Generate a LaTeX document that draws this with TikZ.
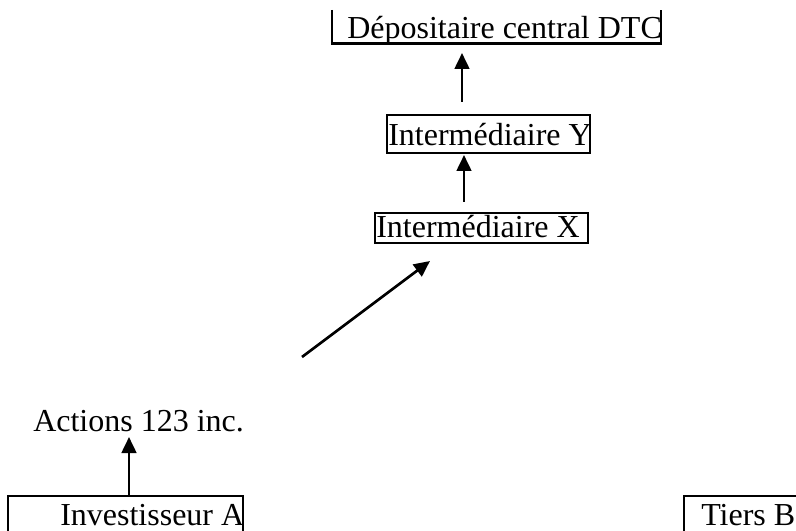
\documentclass[tikz,border=0pt]{standalone}
\usepackage{fontspec}
\setmainfont{Liberation Serif}
\usetikzlibrary{arrows.meta}
\tikzset{
  lbl/.style={anchor=base west, inner sep=0pt, font=\fontsize{24pt}{28pt}\selectfont},
  boxline/.style={line width=1.8pt},
  arr/.style={line width=2pt, -{Triangle[length=12pt, width=11pt]}}
}
\begin{document}
\begin{tikzpicture}[x=0.75pt, y=-0.75pt]
\useasboundingbox (0,0) rectangle (796,531);
% boxes
\draw[boxline] (332,10) -- (332,43.5) -- (661,43.5) -- (661,10);
\draw[boxline] (387,115) rectangle (590,153);
\draw[boxline] (375,213) rectangle (588,243);
\draw[boxline] (8,531) -- (8,496) -- (243,496) -- (243,531);
\draw[boxline] (684,531) -- (684,496) -- (796,496);
% texts
\node[lbl] (dtc) at (347,38.5) {Dépositaire central DTC};
\node[lbl] (y) at (388,146) {Intermédiaire Y};
\node[lbl] (x) at (376,238) {Intermédiaire X};
\node[lbl] (act) at (33,431) {Actions 123 inc.};
\node[lbl] (inv) at (60,525) {Investisseur A};
\node[lbl] (tb) at (701,525) {Tiers B};
% connector ends
\coordinate (a1s) at (462,102);
\coordinate (a1e) at (462,53);
\coordinate (a2s) at (464,202);
\coordinate (a2e) at (464,155);
\coordinate (a3s) at (302,357);
\coordinate (a3e) at (430,261);
\coordinate (a4s) at (129,495);
\coordinate (a4e) at (129,437);
\draw[arr] (a1s) -- (a1e);
\draw[arr] (a2s) -- (a2e);
\draw[arr] (a3s) -- (a3e);
\draw[arr] (a4s) -- (a4e);
\end{tikzpicture}
\end{document}
